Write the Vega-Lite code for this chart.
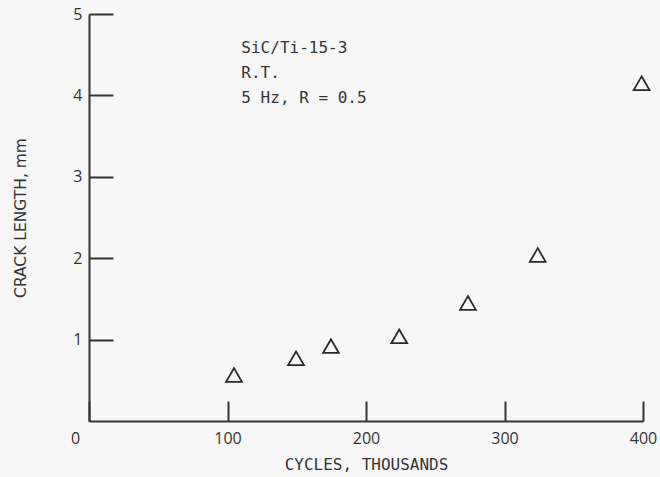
{
  "$schema": "https://vega.github.io/schema/vega-lite/v6.json",
  "width": 554,
  "height": 407,
  "autosize": "none",
  "padding": {"left": 89, "top": 14, "right": 17, "bottom": 56},
  "background": "#f7f7f7",
  "config": {"view": {"stroke": null}},
  "layer": [
    {
      "data": {"values": [
        {"cycles": 104.7, "crack": 0.565},
        {"cycles": 149.5, "crack": 0.77},
        {"cycles": 174.7, "crack": 0.92},
        {"cycles": 224, "crack": 1.04},
        {"cycles": 273.6, "crack": 1.45},
        {"cycles": 324, "crack": 2.04},
        {"cycles": 399, "crack": 4.15}
      ]},
      "mark": {"type": "point", "shape": "triangle-up", "filled": false, "size": 250, "stroke": "#2a2a2a", "strokeWidth": 1.8, "opacity": 1},
      "encoding": {
        "x": {"field": "cycles", "type": "quantitative",
          "scale": {"domain": [0, 400], "nice": false, "zero": true},
          "axis": {"title": "CYCLES, THOUSANDS", "values": [0, 100, 200, 300, 400], "format": "d", "grid": false, "labelFlush": false,
            "domainColor": "#333", "domainWidth": 2, "tickColor": "#333", "tickWidth": 2, "tickSize": -20,
            "labelFont": "Open Sans", "labelFontSize": 16, "labelColor": "#333", "labelPadding": 29,
            "labelOffset": {"expr": "datum.value == 0 ? -14 : 0"},
            "titleFont": "DejaVu Sans Mono", "titleFontSize": 16, "titleFontWeight": "normal", "titleColor": "#333", "titlePadding": 10}},
        "y": {"field": "crack", "type": "quantitative",
          "scale": {"domain": [0, 5], "nice": false},
          "axis": {"title": "CRACK LENGTH, mm", "values": [1, 2, 3, 4, 5], "format": "d", "grid": false, "labelFlush": false,
            "domainColor": "#333", "domainWidth": 2, "tickColor": "#333", "tickWidth": 2, "tickSize": -24,
            "labelFont": "Open Sans", "labelFontSize": 16, "labelColor": "#333", "labelPadding": 31,
            "titleFont": "DejaVu Sans", "titleFontSize": 15.5, "titleFontWeight": "normal", "titleColor": "#333", "titlePadding": 44}}
      }
    },
    {
      "data": {"values": [
        {"cycles": 110, "crack": 4.58, "label": "SiC/Ti-15-3"},
        {"cycles": 110, "crack": 4.275, "label": "R.T."},
        {"cycles": 110, "crack": 3.97, "label": "5 Hz, R = 0.5"}
      ]},
      "mark": {"type": "text", "align": "left", "baseline": "middle", "font": "DejaVu Sans Mono", "fontSize": 16, "color": "#333"},
      "encoding": {
        "x": {"field": "cycles", "type": "quantitative"},
        "y": {"field": "crack", "type": "quantitative"},
        "text": {"field": "label"}
      }
    }
  ]
}
